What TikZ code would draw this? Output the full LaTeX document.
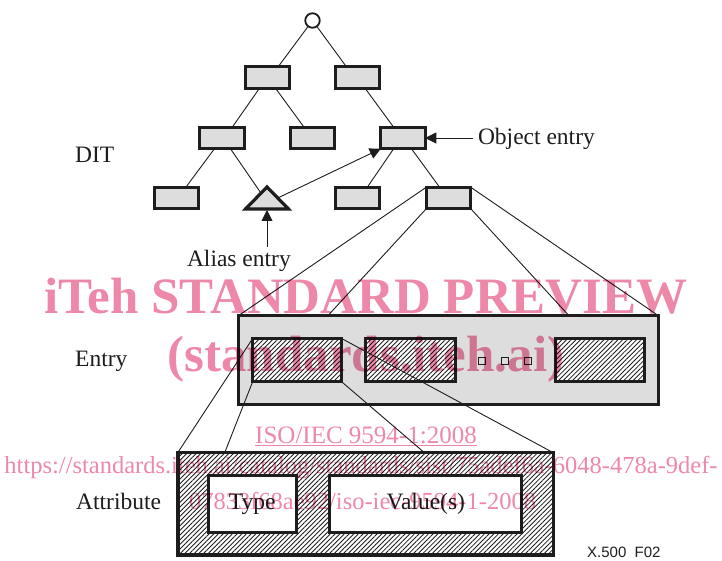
\documentclass[tikz,border=0pt]{standalone}
\usepackage{fontspec}
\setmainfont{Liberation Serif}
\newfontfamily\labsans{Liberation Sans}
\usetikzlibrary{arrows.meta,patterns.meta,calc}
\definecolor{boxgray}{RGB}{221,221,221}
\definecolor{wmpink}{RGB}{238,136,168}
\definecolor{ink}{RGB}{30,28,28}
\begin{document}
\begin{tikzpicture}[x=1pt,y=-1pt,
  tbox/.style={draw=ink,line width=3pt,fill=boxgray,minimum width=44.5pt,minimum height=21.5pt,inner sep=0pt,outer sep=0pt},
  edge/.style={draw=ink,line width=0.9pt},
  arr/.style={draw=ink,line width=0.9pt,-{Triangle[length=11pt,width=11pt]}},
  hatch/.style={pattern={Lines[angle=45,distance=3.3pt,line width=0.85pt]},pattern color=ink},
  lbl/.style={inner sep=0pt,font=\fontsize{23.5}{28}\selectfont,text=ink},
  wm/.style={inner sep=0pt,text=wmpink},
]
\useasboundingbox (0,0) rectangle (722,561);

% ---------- DIT tree ----------
\node[draw=ink,line width=1.8pt,circle,minimum size=14.5pt,inner sep=0pt,outer sep=0pt,fill=white] (root) at (312.5,20.5) {};
\node[tbox] (A1) at (267.5,77.5) {};
\node[tbox] (A2) at (357.5,77.5) {};
\node[tbox] (B1) at (222,138) {};
\node[tbox] (B2) at (312.5,138) {};
\node[tbox] (B3) at (403,138) {};
\node[tbox] (C1) at (176.5,198) {};
\node[tbox] (C3) at (357.5,198) {};
\node[tbox] (C4) at (448.5,198) {};
\coordinate (Ttop) at (267,187);
\coordinate (Tleft) at (245.5,209);
\coordinate (Tright) at (288.5,209);
\coordinate (Tbase) at ($(Tleft)!0.5!(Tright)$);
\filldraw[draw=ink,fill=boxgray,line width=3.2pt,line join=miter] (Ttop) -- (Tleft) -- (Tright) -- cycle;

\draw[edge] (root) -- ($(A1.north west)!0.74!(A1.north east)$);
\draw[edge] (root) -- ($(A2.north west)!0.25!(A2.north east)$);
\draw[edge] ($(A1.south west)!0.32!(A1.south east)$) -- ($(B1.north west)!0.73!(B1.north east)$);
\draw[edge] ($(A1.south west)!0.68!(A1.south east)$) -- ($(B2.north west)!0.31!(B2.north east)$);
\draw[edge] ($(A2.south west)!0.67!(A2.south east)$) -- ($(B3.north west)!0.29!(B3.north east)$);
\draw[edge] ($(B1.south west)!0.33!(B1.south east)$) -- ($(C1.north west)!0.71!(C1.north east)$);
\draw[edge] ($(B1.south west)!0.69!(B1.south east)$) -- ($(Ttop)!0.28!(Tleft)$);
\draw[edge] ($(B3.south west)!0.29!(B3.south east)$) -- ($(C3.north west)!0.72!(C3.north east)$);
\draw[edge] ($(B3.south west)!0.69!(B3.south east)$) -- ($(C4.north west)!0.3!(C4.north east)$);

% labels
\node[lbl,anchor=base west] (dit) at (75,163) {DIT};
\node[lbl,anchor=base west,outer sep=5pt] (obj) at (473,145) {Object entry};
\node[lbl,anchor=base west,outer sep=3pt] (alias) at (184,266) {Alias entry};
\draw[arr] (obj.west |- B3.east) -- (B3.east);
\draw[arr] ($(Ttop)!0.5!(Tright)$) -- (B3.south west);
\draw[arr,shorten >=1pt] (alias.north -| Tbase) -- (Tbase);

% ---------- Entry ----------
\node[draw=ink,line width=3pt,fill=boxgray,minimum width=420pt,minimum height=89pt,inner sep=0pt,outer sep=0pt] (EN) at (448.4,360.2) {};
\draw[edge] (C4.north west) -- (EN.north west);
\draw[edge] (C4.south west) -- ($(EN.north west)!0.213!(EN.north east)$);
\draw[edge] (C4.south east) -- ($(EN.north west)!0.787!(EN.north east)$);
\draw[edge] (C4.north east) -- (EN.north east);
\tikzset{ebox/.style={draw=ink,line width=3pt,preaction={fill=white},hatch,minimum width=89.3pt,minimum height=43.3pt,inner sep=0pt,outer sep=0pt}}
\node[ebox] (E1) at (297.2,360.3) {};
\node[ebox] (E2) at (410.5,360.3) {};
\node[ebox] (E3) at (599.9,360.3) {};
\tikzset{dot/.style={draw=ink,line width=1.1pt,fill=boxgray,minimum size=7pt,inner sep=0pt}}
\node[dot] (d1) at (482.3,360.7) {};
\node[dot] (d2) at (505,360.7) {};
\node[dot] (d3) at (527.7,360.7) {};
\node[lbl,anchor=base west] (entrylbl) at (75,366) {Entry};

% ---------- Attribute ----------
\node[draw=ink,line width=3.5pt,hatch,minimum width=375.5pt,minimum height=102.2pt,inner sep=0pt,outer sep=0pt] (AT) at (365.5,503.8) {};
\node[draw=ink,line width=3pt,fill=white,minimum width=88pt,minimum height=57.3pt,inner sep=0pt,outer sep=0pt] (TY) at (252.2,504.2) {};
\node[draw=ink,line width=3pt,fill=white,minimum width=192pt,minimum height=57.3pt,inner sep=0pt,outer sep=0pt] (VA) at (425.8,504.2) {};
\node[lbl,anchor=base] (tytext) at (TY.center |- 0,509.5) {Type};
\node[lbl,anchor=base] (vatext) at (VA.center |- 0,509.5) {Value(s)};
\node[lbl,anchor=base west] (attrlbl) at (76,509.5) {Attribute};
\node[inner sep=0pt,anchor=base west,text=ink,font=\labsans\fontsize{15}{18}\selectfont] (fig) at (587,557) {X.500\ \ F02};

% lines from first entry box to attribute box (on top of entry box)
\draw[edge] (E1.north west) -- (AT.north west);
\draw[edge] (E1.south west) -- ($(AT.north west)!0.125!(AT.north east)$);
\draw[edge] (E1.south east) -- ($(AT.north west)!0.657!(AT.north east)$);
\draw[edge] (E1.north east) -- (AT.north east);

% ---------- watermark ----------
\begin{scope}[blend mode=multiply]
\node[wm,anchor=base,font=\bfseries\fontsize{51}{60}\selectfont] (wm1) at (366,313.3) {iTeh STANDARD PREVIEW};
\node[wm,anchor=base,font=\bfseries\fontsize{51}{60}\selectfont] (wm2) at (366,371.7) {(standards.iteh.ai)};
\node[wm,anchor=base,font=\fontsize{25}{30}\selectfont] (iso) at (366,443) {ISO/IEC 9594-1:2008};
\draw[wmpink,line width=1.1pt] ([yshift=-2.5pt]iso.base west) -- ([yshift=-2.5pt]iso.base east);
\node[wm,anchor=base,font=\fontsize{24.5}{30}\selectfont] (url1) at (361,473.5) {https://standards.iteh.ai/catalog/standards/sist/75adef6a-6048-478a-9def-};
\node[wm,anchor=base,font=\fontsize{24.5}{30}\selectfont] (url2) at (362.5,509.5) {07833f68ae92/iso-iec-9594-1-2008};
\end{scope}
\end{tikzpicture}
\end{document}
